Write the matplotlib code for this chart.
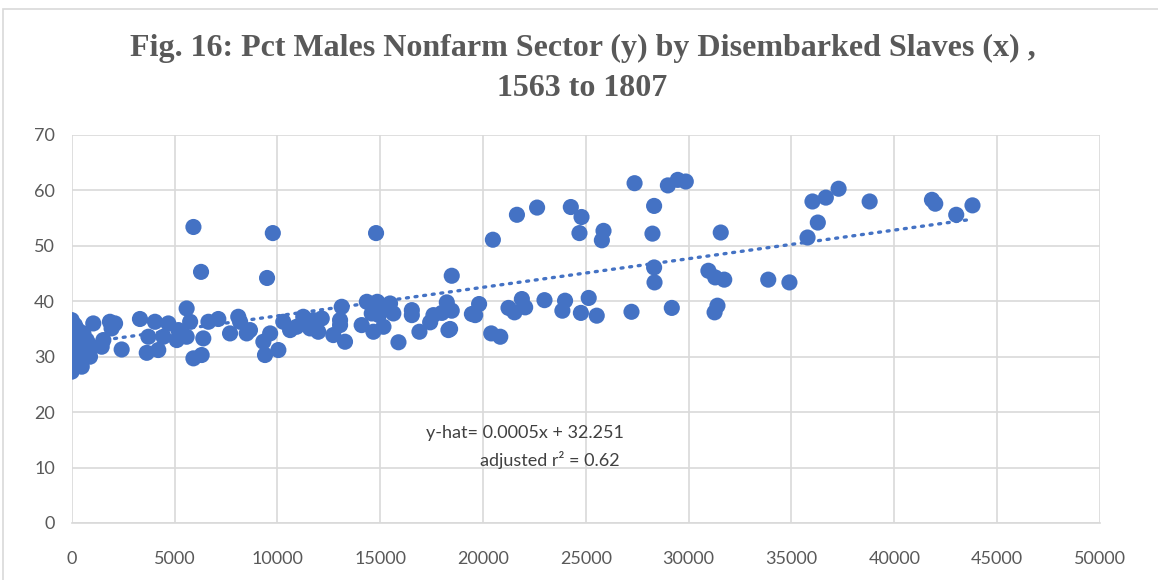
#!/usr/bin/env python3
"""Fig. 16 scatter: pct males in nonfarm sector vs disembarked slaves."""

import matplotlib
matplotlib.use("Agg")
import matplotlib.pyplot as plt
from matplotlib.patches import Rectangle
import numpy as np

# disembarked slaves (x) and pct males nonfarm (y)
slaves = [
    0, 0, 0, 0, 0, 0, 0, 0, 0, 0, 0, 0, 0, 0, 0, 0, 0, 0,
    160, 240, 320, 490, 570, 650, 730, 890, 1050, 970, 1460, 1540,
    1860, 2110, 1940, 2430, 3320, 3730, 3650, 4050, 4210, 4460,
    4700, 5110, 5190, 5590, 5760, 5590, 5920, 6320, 6400, 6650,
    7130, 7700, 8100, 8190, 8510, 8670, 9320, 9400, 9650, 10050,
    10290, 10620, 10940, 11260, 11340, 11590, 11750, 11990, 12160, 12720,
    13050, 13130, 13290, 13050, 14100, 14350, 14590, 14670, 14860, 14940,
    15160, 15320, 15480, 15640, 15890,
    5920, 6290, 9780, 9500, 14800,
    16540, 16540, 16910, 17430, 17590, 18000, 18240, 18480, 18320, 18400,
    18480, 19460, 19620, 19810, 20400, 20840, 20480, 21240, 21530, 21890,
    22050, 21650, 22630, 22990, 23860, 23990, 24270, 24790, 24690, 24760,
    25140, 25530, 25780, 25860, 27220, 27370, 28240, 28320, 28320, 28340,
    28990, 29180, 29470, 29860, 30960, 31290, 31730, 31260, 31400, 31560,
    33870, 34900, 35780, 36280, 36020, 36670, 37290, 38800, 41830, 41990,
    43010, 43800,
    200, 400, 600, 300, 100, 800,
]
pct_nonfarm = [
    36.6, 35.4, 34.2, 33.0, 31.8, 30.6, 29.4, 27.3, 36.0, 35.0, 34.6, 33.5, 32.5, 32.0, 31.5, 30.0, 29.0, 28.5,
    35.7, 33.6, 31.2, 28.2, 34.2, 30.6, 33.0, 30.0, 36.0, 31.8, 31.8, 33.0,
    36.3, 36.0, 35.1, 31.3, 36.8, 33.6, 30.7, 36.3, 31.2, 33.6,
    36.0, 33.0, 34.8, 38.7, 36.3, 33.6, 29.7, 30.3, 33.3, 36.3,
    36.8, 34.2, 37.2, 36.3, 34.2, 34.8, 32.7, 30.3, 34.2, 31.2,
    36.3, 34.8, 35.4, 37.2, 36.0, 35.1, 36.6, 34.5, 36.9, 33.9,
    36.6, 39.0, 32.7, 35.7, 35.7, 39.9, 37.8, 34.5, 39.9, 37.5,
    35.4, 39.0, 39.6, 37.8, 32.6,
    53.4, 45.3, 52.3, 44.2, 52.3,
    38.4, 37.5, 34.5, 36.2, 37.5, 37.9, 39.8, 38.3, 34.8, 35.0,
    44.6, 37.7, 37.5, 39.5, 34.2, 33.6, 51.1, 38.8, 38.0, 40.4,
    38.9, 55.6, 56.9, 40.2, 38.3, 40.1, 57.0, 55.2, 52.3, 37.9,
    40.6, 37.4, 51.0, 52.7, 38.1, 61.3, 52.2, 57.2, 46.1, 43.4,
    60.9, 38.8, 61.9, 61.6, 45.5, 44.3, 43.9, 38.0, 39.2, 52.4,
    43.9, 43.4, 51.5, 54.2, 58.0, 58.7, 60.3, 58.0, 58.3, 57.6,
    55.6, 57.3,
    32.0, 29.5, 31.6, 34.8, 30.2, 32.4,
]

# linear trend as drawn by the spreadsheet
trend_slope = 0.000516
trend_intercept = 32.2

x_ticks = list(range(0, 50001, 5000))
y_ticks = list(range(0, 71, 10))

blue = "#4472C4"
grid_gray = "#D9D9D9"
text_gray = "#595959"

fig = plt.figure(figsize=(11.58, 5.8), dpi=100)
ax = fig.add_axes([0.0619, 0.0983, 0.888, 0.669])

ax.scatter(slaves, pct_nonfarm, s=135, color=blue, edgecolors="none", zorder=3)

tx = np.array([min(slaves), max(slaves)])
ax.plot(tx, trend_slope * tx + trend_intercept, color=blue, linewidth=2.4,
        linestyle=(0, (0.6, 2.0)), dash_capstyle="round", zorder=4)

ax.set_xlim(0, 50000)
ax.set_ylim(0, 70)
ax.set_xticks(x_ticks)
ax.set_yticks(y_ticks)
ax.tick_params(length=0, labelsize=13, labelcolor=text_gray)
ax.tick_params(axis="x", pad=20)
ax.tick_params(axis="y", pad=12)
for lbl in ax.get_xticklabels() + ax.get_yticklabels():
    lbl.set_fontfamily("Lato")

ax.grid(True, color=grid_gray, linewidth=1.2, zorder=0)
ax.set_axisbelow(True)
for side in ["top", "right", "left"]:
    ax.spines[side].set_visible(False)
ax.spines["bottom"].set_color(grid_gray)
ax.spines["bottom"].set_linewidth(1.2)

ax.text(22050, 16.2, "y-hat= 0.0005x + 32.251", ha="center", va="center",
        fontsize=13, color="#404040", family="Lato")
ax.text(23260, 11.3, "adjusted r² = 0.62", ha="center", va="center",
        fontsize=13, color="#404040", family="Lato")

fig.text(0.503, 0.917, "Fig. 16: Pct Males Nonfarm Sector (y) by Disembarked Slaves (x) ,",
         ha="center", va="center", fontsize=23, fontweight="bold",
         color=text_gray, family="Liberation Serif")
fig.text(0.503, 0.848, "1563 to 1807", ha="center", va="center", fontsize=23,
         fontweight="bold", color=text_gray, family="Liberation Serif")

# outer chart border
fig.patches.append(Rectangle((0.003, -0.01), 1.2, 0.995, transform=fig.transFigure,
                             fill=False, edgecolor=grid_gray, linewidth=1.2))

plt.savefig("out.png", dpi=100)
